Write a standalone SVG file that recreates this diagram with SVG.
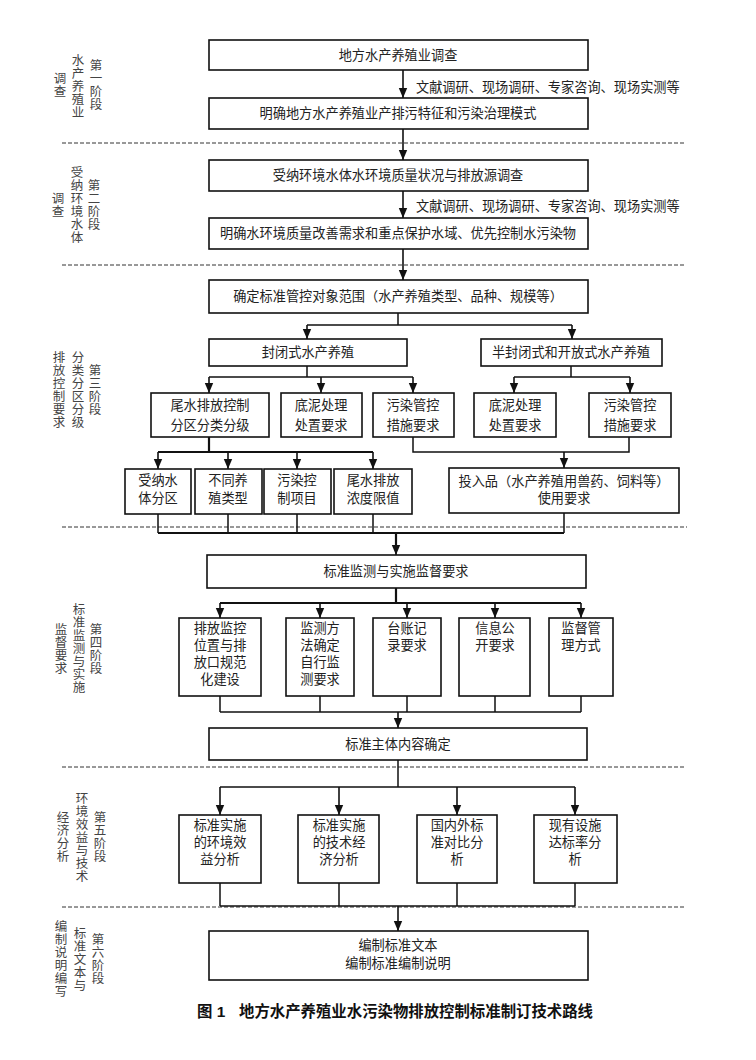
<svg xmlns="http://www.w3.org/2000/svg" width="756" height="1060" viewBox="0 0 756 1060">
<style>
.bx{fill:#fff;stroke:#111;stroke-width:1.6}
.t{font-family:"Liberation Serif","Noto Sans CJK SC",serif;font-size:13.2px;fill:#222;text-anchor:middle}
.ta{font-family:"Liberation Serif","Noto Sans CJK SC",serif;font-size:13.2px;fill:#222}
.lb{font-family:"Liberation Serif","Noto Sans CJK SC",serif;font-size:12.5px;fill:#444;text-anchor:middle}
.cap{font-family:"Liberation Sans","Noto Sans CJK SC",sans-serif;font-size:15.4px;font-weight:bold;fill:#111}
.ln{fill:none;stroke:#111;stroke-width:1.5}
.lk{fill:none;stroke:#111;stroke-width:2.2}
.ar{fill:none;stroke:#111;stroke-width:1.6;marker-end:url(#ah)}
.ds{fill:none;stroke:#333;stroke-width:1;stroke-dasharray:4 2}
</style>
<defs>
<marker id="ah" markerUnits="userSpaceOnUse" markerWidth="10" markerHeight="10" refX="10" refY="5" orient="auto">
<path d="M0,0.8 L10,5 L0,9.2 z" fill="#111"/>
</marker>
</defs>
<rect width="756" height="1060" fill="#fff"/>

<g id="dividers">
<path class="ds" d="M62,143 H685 M62,265 H685 M62,527 H687 M62,767 H684 M62,907 H685"/>
</g>

<g id="stage-labels">
<g id="s1">
<text class="lb"><tspan x="60" y="83">调</tspan><tspan x="60" y="96">查</tspan></text>
<text class="lb"><tspan x="78" y="65">水</tspan><tspan x="78" y="78">产</tspan><tspan x="78" y="91">养</tspan><tspan x="78" y="104">殖</tspan><tspan x="78" y="117">业</tspan></text>
<text class="lb"><tspan x="96" y="70">第</tspan><tspan x="96" y="83">一</tspan><tspan x="96" y="96">阶</tspan><tspan x="96" y="109">段</tspan></text>
</g>
<g id="s2">
<text class="lb"><tspan x="58" y="203">调</tspan><tspan x="58" y="216">查</tspan></text>
<text class="lb"><tspan x="77" y="177">受</tspan><tspan x="77" y="190">纳</tspan><tspan x="77" y="203">环</tspan><tspan x="77" y="216">境</tspan><tspan x="77" y="229">水</tspan><tspan x="77" y="242">体</tspan></text>
<text class="lb"><tspan x="94" y="190">第</tspan><tspan x="94" y="203">二</tspan><tspan x="94" y="216">阶</tspan><tspan x="94" y="229">段</tspan></text>
</g>
<g id="s3">
<text class="lb"><tspan x="59" y="362">排</tspan><tspan x="59" y="375">放</tspan><tspan x="59" y="388">控</tspan><tspan x="59" y="401">制</tspan><tspan x="59" y="414">要</tspan><tspan x="59" y="427">求</tspan></text>
<text class="lb"><tspan x="78" y="362">分</tspan><tspan x="78" y="375">类</tspan><tspan x="78" y="388">分</tspan><tspan x="78" y="401">区</tspan><tspan x="78" y="414">分</tspan><tspan x="78" y="427">级</tspan></text>
<text class="lb"><tspan x="95" y="375">第</tspan><tspan x="95" y="388">三</tspan><tspan x="95" y="401">阶</tspan><tspan x="95" y="414">段</tspan></text>
</g>
<g id="s4">
<text class="lb"><tspan x="61" y="634">监</tspan><tspan x="61" y="647">督</tspan><tspan x="61" y="660">要</tspan><tspan x="61" y="673">求</tspan></text>
<text class="lb"><tspan x="79" y="614">标</tspan><tspan x="79" y="627">准</tspan><tspan x="79" y="640">监</tspan><tspan x="79" y="653">测</tspan><tspan x="79" y="666">与</tspan><tspan x="79" y="679">实</tspan><tspan x="79" y="692">施</tspan></text>
<text class="lb"><tspan x="96" y="634">第</tspan><tspan x="96" y="647">四</tspan><tspan x="96" y="660">阶</tspan><tspan x="96" y="673">段</tspan></text>
</g>
<g id="s5">
<text class="lb"><tspan x="63" y="822">经</tspan><tspan x="63" y="835">济</tspan><tspan x="63" y="848">分</tspan><tspan x="63" y="861">析</tspan></text>
<text class="lb"><tspan x="82" y="803">环</tspan><tspan x="82" y="816">境</tspan><tspan x="82" y="829">效</tspan><tspan x="82" y="842">益</tspan><tspan x="82" y="855">与</tspan><tspan x="82" y="868">技</tspan><tspan x="82" y="881">术</tspan></text>
<text class="lb"><tspan x="100" y="822">第</tspan><tspan x="100" y="835">五</tspan><tspan x="100" y="848">阶</tspan><tspan x="100" y="861">段</tspan></text>
</g>
<g id="s6">
<text class="lb"><tspan x="61" y="931">编</tspan><tspan x="61" y="944">制</tspan><tspan x="61" y="957">说</tspan><tspan x="61" y="970">明</tspan><tspan x="61" y="983">编</tspan><tspan x="61" y="996">写</tspan></text>
<text class="lb"><tspan x="80" y="938">标</tspan><tspan x="80" y="951">准</tspan><tspan x="80" y="964">文</tspan><tspan x="80" y="977">本</tspan><tspan x="80" y="990">与</tspan></text>
<text class="lb"><tspan x="98" y="944">第</tspan><tspan x="98" y="957">六</tspan><tspan x="98" y="970">阶</tspan><tspan x="98" y="983">段</tspan></text>
</g>
</g>

<g id="connectors">
<path class="ar" d="M403,70 V98"/>
<path class="ar" d="M403,129 V160"/>
<path class="ar" d="M403,191 V218"/>
<path class="ar" d="M403,249 V280"/>
<path class="ln" d="M398,313 V325 M307,325 H572"/>
<path class="ar" d="M307,325 V339"/>
<path class="ar" d="M572,325 V339"/>
<path class="ln" d="M307,366 V377 M209,377 H413"/>
<path class="ar" d="M209,377 V393"/>
<path class="ar" d="M321,377 V393"/>
<path class="ar" d="M413,377 V393"/>
<path class="ln" d="M571,366 V377 M514,377 H630"/>
<path class="ar" d="M514,377 V393"/>
<path class="ar" d="M630,377 V393"/>
<path class="lk" d="M209,437 V452 M158,452 H373"/>
<path class="ar" d="M158,452 V469"/>
<path class="ar" d="M228,452 V469"/>
<path class="ar" d="M297,452 V469"/>
<path class="ar" d="M373,452 V469"/>
<path class="ln" d="M413,437 V452 H629 V437"/>
<path class="ar" d="M564,452 V468"/>
<path class="ln" d="M158,514 V533 M228,514 V533 M297,514 V533 M373,514 V533 M564,513 V533"/>
<path class="lk" d="M158,533 H564"/>
<path class="lk" d="M396,533 V545"/>
<path class="ar" d="M396,540 V555"/>
<path class="lk" d="M396,588 V603 M220,603 H581"/>
<path class="ar" d="M220,603 V618"/>
<path class="ar" d="M320,603 V618"/>
<path class="ar" d="M407,603 V618"/>
<path class="ar" d="M495,603 V618"/>
<path class="ar" d="M581,603 V618"/>
<path class="ln" d="M220,696 V712 M320,696 V712 M407,696 V712 M495,696 V712 M581,696 V712 M220,712 H581"/>
<path class="ar" d="M398,712 V728"/>
<path class="ln" d="M398,760 V787 M220,787 H575"/>
<path class="ar" d="M220,787 V815"/>
<path class="ar" d="M339,787 V815"/>
<path class="ar" d="M457,787 V815"/>
<path class="ar" d="M575,787 V815"/>
<path class="ln" d="M220,883 V906 M339,883 V906 M457,883 V906 M575,883 V906 M220,906 H575"/>
<path class="ar" d="M398,906 V931"/>
</g>

<g id="notes">
<text class="ta" x="416" y="92">文献调研、现场调研、专家咨询、现场实测等</text>
<text class="ta" x="416" y="211">文献调研、现场调研、专家咨询、现场实测等</text>
</g>

<g id="n1"><rect class="bx" x="209" y="40" width="379" height="30"/><text class="t" x="398" y="60">地方水产养殖业调查</text></g>
<g id="n2"><rect class="bx" x="209" y="98" width="379" height="31"/><text class="t" x="398" y="118">明确地方水产养殖业产排污特征和污染治理模式</text></g>
<g id="n3"><rect class="bx" x="209" y="160" width="379" height="31"/><text class="t" x="398" y="180">受纳环境水体水环境质量状况与排放源调查</text></g>
<g id="n4"><rect class="bx" x="209" y="218" width="379" height="31"/><text class="t" x="398" y="238">明确水环境质量改善需求和重点保护水域、优先控制水污染物</text></g>
<g id="n5"><rect class="bx" x="209" y="280" width="379" height="33"/><text class="t" x="398" y="301">确定标准管控对象范围（水产养殖类型、品种、规模等）</text></g>
<g id="n6"><rect class="bx" x="209" y="339" width="198" height="27"/><text class="t" x="308" y="357">封闭式水产养殖</text></g>
<g id="n7"><rect class="bx" x="481" y="339" width="181" height="27"/><text class="t" x="571" y="357">半封闭式和开放式水产养殖</text></g>
<g id="n8"><rect class="bx" x="151" y="393" width="118" height="44"/><text class="t"><tspan x="210" y="410">尾水排放控制</tspan><tspan x="210" y="430">分区分类分级</tspan></text></g>
<g id="n9"><rect class="bx" x="281" y="393" width="81" height="44"/><text class="t"><tspan x="321" y="410">底泥处理</tspan><tspan x="321" y="430">处置要求</tspan></text></g>
<g id="n10"><rect class="bx" x="373" y="393" width="81" height="44"/><text class="t"><tspan x="413" y="410">污染管控</tspan><tspan x="413" y="430">措施要求</tspan></text></g>
<g id="n11"><rect class="bx" x="474" y="393" width="82" height="44"/><text class="t"><tspan x="515" y="410">底泥处理</tspan><tspan x="515" y="430">处置要求</tspan></text></g>
<g id="n12"><rect class="bx" x="589" y="393" width="82" height="44"/><text class="t"><tspan x="630" y="410">污染管控</tspan><tspan x="630" y="430">措施要求</tspan></text></g>
<g id="n13"><rect class="bx" x="125" y="469" width="66" height="45"/><text class="t"><tspan x="158" y="485">受纳水</tspan><tspan x="158" y="503">体分区</tspan></text></g>
<g id="n14"><rect class="bx" x="195" y="469" width="67" height="45"/><text class="t"><tspan x="228" y="485">不同养</tspan><tspan x="228" y="503">殖类型</tspan></text></g>
<g id="n15"><rect class="bx" x="264" y="469" width="67" height="45"/><text class="t"><tspan x="297" y="485">污染控</tspan><tspan x="297" y="503">制项目</tspan></text></g>
<g id="n16"><rect class="bx" x="334" y="469" width="78" height="45"/><text class="t"><tspan x="373" y="485">尾水排放</tspan><tspan x="373" y="503">浓度限值</tspan></text></g>
<g id="n17"><rect class="bx" x="449" y="468" width="230" height="45"/><text class="t"><tspan x="564" y="486">投入品（水产养殖用兽药、饲料等）</tspan><tspan x="564" y="503">使用要求</tspan></text></g>
<g id="n18"><rect class="bx" x="207" y="555" width="379" height="33"/><text class="t" x="396" y="576">标准监测与实施监督要求</text></g>
<g id="n19"><rect class="bx" x="179" y="618" width="82" height="78"/><text class="t"><tspan x="220" y="633">排放监控</tspan><tspan x="220" y="650">位置与排</tspan><tspan x="220" y="667">放口规范</tspan><tspan x="220" y="684">化建设</tspan></text></g>
<g id="n20"><rect class="bx" x="286" y="618" width="68" height="78"/><text class="t"><tspan x="320" y="633">监测方</tspan><tspan x="320" y="650">法确定</tspan><tspan x="320" y="667">自行监</tspan><tspan x="320" y="684">测要求</tspan></text></g>
<g id="n21"><rect class="bx" x="373" y="618" width="68" height="78"/><text class="t"><tspan x="407" y="633">台账记</tspan><tspan x="407" y="650">录要求</tspan></text></g>
<g id="n22"><rect class="bx" x="459" y="618" width="71" height="78"/><text class="t"><tspan x="495" y="633">信息公</tspan><tspan x="495" y="650">开要求</tspan></text></g>
<g id="n23"><rect class="bx" x="549" y="618" width="64" height="78"/><text class="t"><tspan x="581" y="633">监督管</tspan><tspan x="581" y="650">理方式</tspan></text></g>
<g id="n24"><rect class="bx" x="209" y="728" width="378" height="32"/><text class="t" x="398" y="749">标准主体内容确定</text></g>
<g id="n25"><rect class="bx" x="179" y="815" width="82" height="68"/><text class="t"><tspan x="220" y="830">标准实施</tspan><tspan x="220" y="847">的环境效</tspan><tspan x="220" y="864">益分析</tspan></text></g>
<g id="n26"><rect class="bx" x="298" y="815" width="81" height="68"/><text class="t"><tspan x="339" y="830">标准实施</tspan><tspan x="339" y="847">的技术经</tspan><tspan x="339" y="864">济分析</tspan></text></g>
<g id="n27"><rect class="bx" x="417" y="815" width="80" height="68"/><text class="t"><tspan x="457" y="830">国内外标</tspan><tspan x="457" y="847">准对比分</tspan><tspan x="457" y="864">析</tspan></text></g>
<g id="n28"><rect class="bx" x="534" y="815" width="83" height="68"/><text class="t"><tspan x="575" y="830">现有设施</tspan><tspan x="575" y="847">达标率分</tspan><tspan x="575" y="864">析</tspan></text></g>
<g id="n29"><rect class="bx" x="209" y="931" width="379" height="49"/><text class="t"><tspan x="398" y="950">编制标准文本</tspan><tspan x="398" y="968">编制标准编制说明</tspan></text></g>

<g id="caption">
<text class="cap" x="197" y="1017">图 1</text>
<text class="cap" x="239" y="1017">地方水产养殖业水污染物排放控制标准制订技术路线</text>
</g>
</svg>
